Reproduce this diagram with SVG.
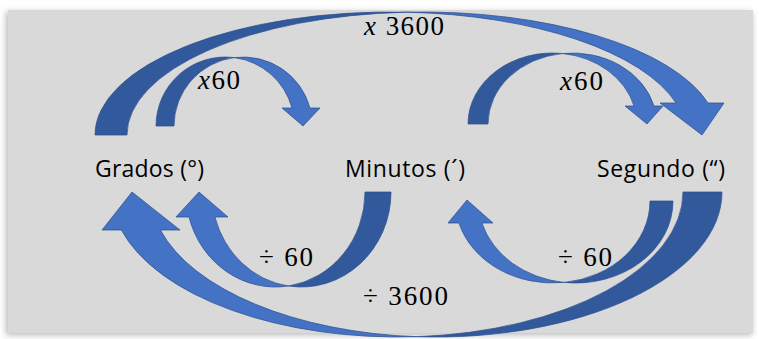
<svg xmlns="http://www.w3.org/2000/svg" width="759" height="339" viewBox="0 0 759 339">
<defs>
<filter id="sh" x="-5%" y="-5%" width="110%" height="110%"><feGaussianBlur stdDeviation="3"/></filter>
<style>
.dk{fill:#32599b;stroke:#2f528f;stroke-width:0.75}
.lt{fill:#4472c4;stroke:#2f528f;stroke-width:0.75}
.node{font-family:"Open Sans","Liberation Sans",sans-serif;font-size:23px;fill:#000}
.m{font-family:"Liberation Serif","DejaVu Serif",serif;font-size:27px;fill:#000}
.i{font-style:italic}
</style>
</defs>
<rect x="0" y="0" width="759" height="339" fill="#ffffff"/>
<rect x="6" y="12" width="746" height="323" fill="#b8b8b8" filter="url(#sh)"/>
<rect x="8" y="10" width="745" height="323" fill="#d9d9d9"/>
<g id="connectors">
  <g id="arrow-x3600">
    <path class="dk" d="M95,135 A295.6 123 0 0 1 406.6,12.18 A295.6 123 0 0 0 127,135 Z"/>
    <path class="lt" d="M406.6,12.18 A295.6 123 0 0 1 708,103 L724,103 L702,135 L660,103 L676,103 A295.6 123 0 0 0 406.6,12.18 Z"/>
  </g>
  <g id="arrow-x60-left">
    <path class="dk" d="M156,126 A69.2 69 0 0 1 234.2,57.59 A69.2 69 0 0 0 174,126 Z"/>
    <path class="lt" d="M234.2,57.59 A69.2 69 0 0 1 310,108 L320,108 L303,126 L282,108 L292,108 A69.2 69 0 0 0 234.2,57.59 Z"/>
  </g>
  <g id="arrow-x60-right">
    <path class="dk" d="M468,124 A84.4 71 0 0 1 562.4,53.5 A84.4 71 0 0 0 488,124 Z"/>
    <path class="lt" d="M562.4,53.5 A84.4 71 0 0 1 654,106 L663,106 L647,124 L625,106 L634,106 A84.4 71 0 0 0 562.4,53.5 Z"/>
  </g>
  <g id="arrow-div60-left">
    <path class="dk" d="M391,192 A89.6 95 0 0 1 288.4,286 A89.6 95 0 0 0 365,192 Z"/>
    <path class="lt" d="M288.4,286 A89.6 95 0 0 1 188.95,217 L176,217 L199,192 L228,217 L214.95,217 A89.6 95 0 0 0 288.4,286 Z"/>
  </g>
  <g id="arrow-div3600">
    <path class="dk" d="M722,192 A285.8 145 0 0 1 416.7,336.66 A285.8 145 0 0 0 683,192 Z"/>
    <path class="lt" d="M416.7,336.66 A285.8 145 0 0 1 121.4,230 L102,230 L132,192 L180,230 L160.4,230 A285.8 145 0 0 0 416.7,336.66 Z"/>
  </g>
  <g id="arrow-div60-right">
    <path class="dk" d="M673,201 A97.3 82 0 0 1 564.2,282.43 A97.3 82 0 0 0 650,201 Z"/>
    <path class="lt" d="M564.2,282.43 A97.3 82 0 0 1 458.97,223 L448,223 L467,200 L493,223 L481.97,223 A97.3 82 0 0 0 564.2,282.43 Z"/>
  </g>
  <text class="m" x="364" y="35" textLength="80" lengthAdjust="spacing"><tspan class="i">x</tspan> 3600</text>
  <text class="m" x="198" y="89" textLength="42" lengthAdjust="spacing"><tspan class="i">x</tspan>60</text>
  <text class="m" x="560" y="90" textLength="43" lengthAdjust="spacing"><tspan class="i">x</tspan>60</text>
  <text class="m" x="259" y="266" textLength="54" lengthAdjust="spacing">÷ 60</text>
  <text class="m" x="558" y="266" textLength="54" lengthAdjust="spacing">÷ 60</text>
  <text class="m" x="363" y="305" textLength="85" lengthAdjust="spacing">÷ 3600</text>
</g>
<g id="node-grados"><text class="node" x="95" y="177" textLength="109" lengthAdjust="spacing">Grados (°)</text></g>
<g id="node-minutos"><text class="node" x="345" y="177" textLength="120" lengthAdjust="spacing">Minutos (´)</text></g>
<g id="node-segundo"><text class="node" x="597" y="177" textLength="128" lengthAdjust="spacing">Segundo (“)</text></g>
</svg>
